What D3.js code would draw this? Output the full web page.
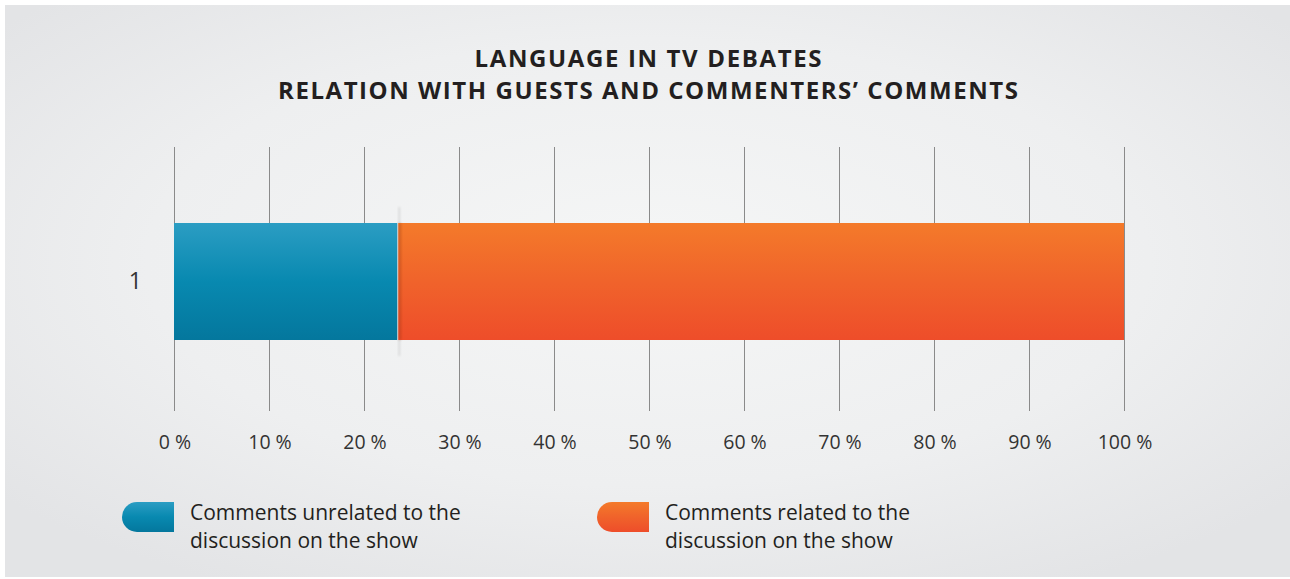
<!DOCTYPE html>
<html>
<head>
<meta charset="utf-8">
<script src="https://cdn.jsdelivr.net/npm/d3@7"></script>
<style>
  html, body { margin: 0; padding: 0; background: #ffffff; }
  svg { display: block; }
</style>
</head>
<body>
<div id="chart"></div>
<script>
// Chart data
const titleLines = ["LANGUAGE IN TV DEBATES", "RELATION WITH GUESTS AND COMMENTERS\u2019 COMMENTS"];
const categories = ["1"];
const seriesNames = ["Comments unrelated to the discussion on the show", "Comments related to the discussion on the show"];
const legendLines = [["Comments unrelated to the", "discussion on the show"], ["Comments related to the", "discussion on the show"]];
const unrelated = [23.5];
const related = [76.5];
const tickValues = [0, 10, 20, 30, 40, 50, 60, 70, 80, 90, 100];

const W = 1290, H = 579;
const svg = d3.select("#chart").append("svg").attr("width", W).attr("height", H);
const defs = svg.append("defs");

// Panel background: soft radial light in the middle
const bg = defs.append("radialGradient").attr("id", "bg")
  .attr("cx", "50%").attr("cy", "45%").attr("r", "65%");
bg.append("stop").attr("offset", "0%").attr("stop-color", "#f5f6f6");
bg.append("stop").attr("offset", "60%").attr("stop-color", "#eeeff0");
bg.append("stop").attr("offset", "100%").attr("stop-color", "#e3e4e6");
svg.append("rect").attr("x", 5).attr("y", 5).attr("width", W - 5).attr("height", 572).attr("fill", "url(#bg)");

const colors = [
  { id: "gBlue", top: "#2b9dc3", mid: "#0889b0", bottom: "#04779d" },
  { id: "gOrange", top: "#f47a2a", mid: "#f0632b", bottom: "#ee4d2a" }
];
colors.forEach(c => {
  const g = defs.append("linearGradient").attr("id", c.id).attr("x1", 0).attr("y1", 0).attr("x2", 0).attr("y2", 1);
  g.append("stop").attr("offset", "0%").attr("stop-color", c.top);
  g.append("stop").attr("offset", "50%").attr("stop-color", c.mid);
  g.append("stop").attr("offset", "100%").attr("stop-color", c.bottom);
});
defs.append("filter").attr("id", "soft").attr("x", "-50%").attr("width", "200%")
  .append("feGaussianBlur").attr("stdDeviation", 1.2);

// Title
const titleWidths = [347, 740];
const title = svg.append("text")
  .attr("text-anchor", "middle")
  .attr("font-family", "'Open Sans', sans-serif")
  .attr("font-weight", 700)
  .attr("font-size", 24)
  .attr("fill", "#231f20");
titleLines.forEach((t, i) => {
  title.append("tspan").attr("x", 648).attr("y", 66.5 + i * 32)
    .attr("textLength", titleWidths[i]).attr("lengthAdjust", "spacing")
    .text(t);
});

// Scales
const x = d3.scaleLinear().domain([0, 100]).range([174, 1124]);
const y = d3.scaleBand().domain(categories).range([223, 340]).padding(0);
const plotTop = 147, plotBottom = 411;

// Vertical grid lines
svg.append("g").selectAll("line").data(tickValues).join("line")
  .attr("x1", d => x(d) + 0.5).attr("x2", d => x(d) + 0.5)
  .attr("y1", plotTop).attr("y2", plotBottom)
  .attr("stroke", "#8a8a8a").attr("stroke-width", 1);

// X axis tick labels
const xAxis = d3.axisBottom(x).tickValues(tickValues).tickSize(0).tickPadding(0).tickFormat(d => d + " %");
const xg = svg.append("g").attr("transform", `translate(0.5, ${plotBottom + 38})`).call(xAxis);
xg.select(".domain").remove();
xg.selectAll("text")
  .attr("dy", 0)
  .attr("font-family", "'Open Sans', sans-serif")
  .attr("font-size", 19.5)
  .attr("fill", "#333333");

// Y axis category label
const yAxis = d3.axisLeft(y).tickSize(0).tickPadding(0);
const yg = svg.append("g").attr("transform", "translate(142, 0)").call(yAxis);
yg.select(".domain").remove();
yg.selectAll("text")
  .attr("font-family", "'Open Sans', sans-serif")
  .attr("font-size", 23)
  .attr("fill", "#333333");

// Stacked bars
const rows = categories.map((c, i) => ({ cat: c, a: unrelated[i], b: related[i] }));
const bars = svg.append("g");
rows.forEach(r => {
  const y0 = y(r.cat), h = y.bandwidth();
  // soft shadow where the two segments meet
  bars.append("rect")
    .attr("x", x(r.a) + 1).attr("width", 2)
    .attr("y", y0 - 16).attr("height", h + 32)
    .attr("fill", "#8a8a8a").attr("opacity", 0.22).attr("filter", "url(#soft)");
  bars.append("rect")
    .attr("x", x(0)).attr("y", y0)
    .attr("width", x(r.a) - x(0)).attr("height", h)
    .attr("fill", "url(#gBlue)");
  bars.append("rect")
    .attr("x", x(r.a) + 1).attr("y", y0)
    .attr("width", x(r.a + r.b) - x(r.a) - 1).attr("height", h)
    .attr("fill", "url(#gOrange)");
  bars.append("rect")
    .attr("x", x(r.a) + 1).attr("y", y0).attr("width", 3).attr("height", h)
    .attr("fill", "#7a2a10").attr("opacity", 0.25).attr("filter", "url(#soft)");
});

// Legend
const legendX = [122, 597];
const legend = svg.append("g");
seriesNames.forEach((name, i) => {
  const g = legend.append("g").attr("transform", `translate(${legendX[i]}, 502)`);
  const w = 52, h = 30, r = 15;
  g.append("path")
    .attr("d", `M${r},0 H${w} V${h} H${r} A${r},${r} 0 0 1 ${r},0 Z`)
    .attr("fill", `url(#${colors[i].id})`);
  const t = g.append("text")
    .attr("font-family", "'Open Sans', sans-serif")
    .attr("font-size", 21)
    .attr("fill", "#231f20");
  legendLines[i].forEach((line, j) => {
    t.append("tspan").attr("x", 68).attr("y", 18 + j * 28).text(line);
  });
});
</script>
</body>
</html>
